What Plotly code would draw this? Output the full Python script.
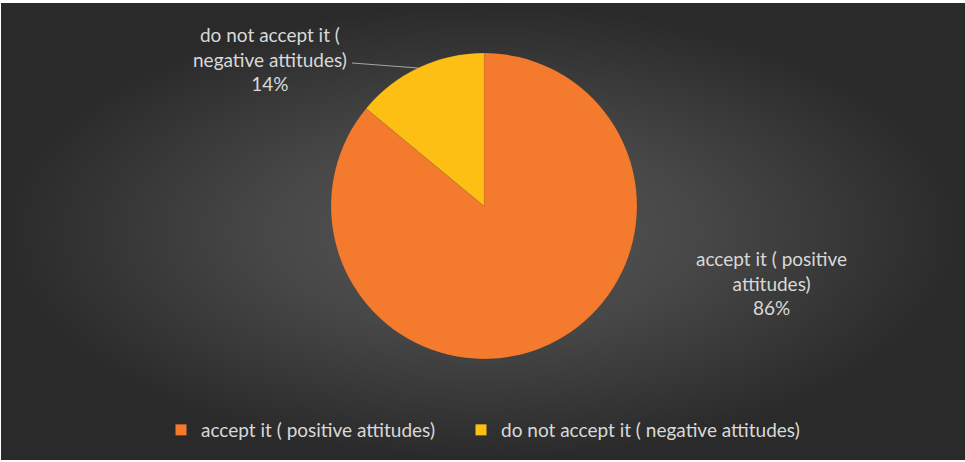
import textwrap
import plotly.graph_objects as go

# Survey result: attitude towards accepting it
labels = ["accept it ( positive attitudes)", "do not accept it ( negative attitudes)"]
values = [86, 14]
colors = ["#F47B2E", "#FDBF14"]

W, H = 965, 462
FONT = "Lato, 'Open Sans', sans-serif"
TEXT_COLOR = "#D9D9D9"

total = sum(values)
pcts = [round(v / total * 100) for v in values]
label_texts = ["<br>".join(textwrap.wrap(lab, 20)) + f"<br>{p}%" for lab, p in zip(labels, pcts)]

fig = go.Figure()

# dark backdrop with a soft radial glow, drawn on a pixel-scaled helper axis
fig.add_trace(go.Scatter(
    x=[1, W, W, 1, 1], y=[3, 3, 460, 460, 3],
    mode="lines", line=dict(width=0),
    fill="toself",
    fillgradient=dict(type="radial",
                      colorscale=[[0, "#575757"], [0.45, "#474747"], [1, "#2A2A2A"]]),
    hoverinfo="skip", showlegend=False,
))

cx, cy, r = 484, 206, 153
fig.add_trace(go.Pie(
    labels=labels, values=values,
    marker=dict(colors=colors, line=dict(color="rgba(0,0,0,0.15)", width=0.5)),
    sort=False, direction="clockwise", rotation=0,
    textinfo="none", hoverinfo="label+percent", showlegend=False,
    domain=dict(x=[(cx - r) / W, (cx + r) / W], y=[(H - cy - r) / H, (H - cy + r) / H]),
))

# legend keys: one square swatch per category, each in its own legend box
legend_names = ["legend", "legend2"]
for lab, col, lg in zip(labels, colors, legend_names):
    fig.add_trace(go.Scatter(
        x=[None], y=[None], mode="markers", name=lab,
        marker=dict(symbol="square", size=11, color=col),
        legend=lg, showlegend=True, hoverinfo="skip",
    ))

# leader line for the small slice label
fig.add_shape(type="line", x0=352, y0=63, x1=418, y1=68,
              line=dict(color="#A6A6A6", width=1), xref="x", yref="y")

fig.add_annotation(x=771, y=283, xref="x", yref="y", text=label_texts[0],
                   showarrow=False, align="center",
                   font=dict(family=FONT, size=19, color=TEXT_COLOR))
fig.add_annotation(x=270, y=59, xref="x", yref="y", text=label_texts[1],
                   showarrow=False, align="center",
                   font=dict(family=FONT, size=19, color=TEXT_COLOR))

legend_style = dict(orientation="h", y=32 / H, yanchor="middle", xanchor="left",
                    font=dict(family=FONT, size=19, color=TEXT_COLOR),
                    bgcolor="rgba(0,0,0,0)", itemwidth=30)

fig.update_layout(
    width=W, height=H,
    margin=dict(l=0, r=0, t=0, b=0),
    paper_bgcolor="white", plot_bgcolor="rgba(0,0,0,0)",
    xaxis=dict(range=[0, W], visible=False, fixedrange=True),
    yaxis=dict(range=[H, 0], visible=False, fixedrange=True),
    legend=dict(x=161 / W, **legend_style),
    legend2=dict(x=461 / W, **legend_style),
)

fig.write_html("out.html")
